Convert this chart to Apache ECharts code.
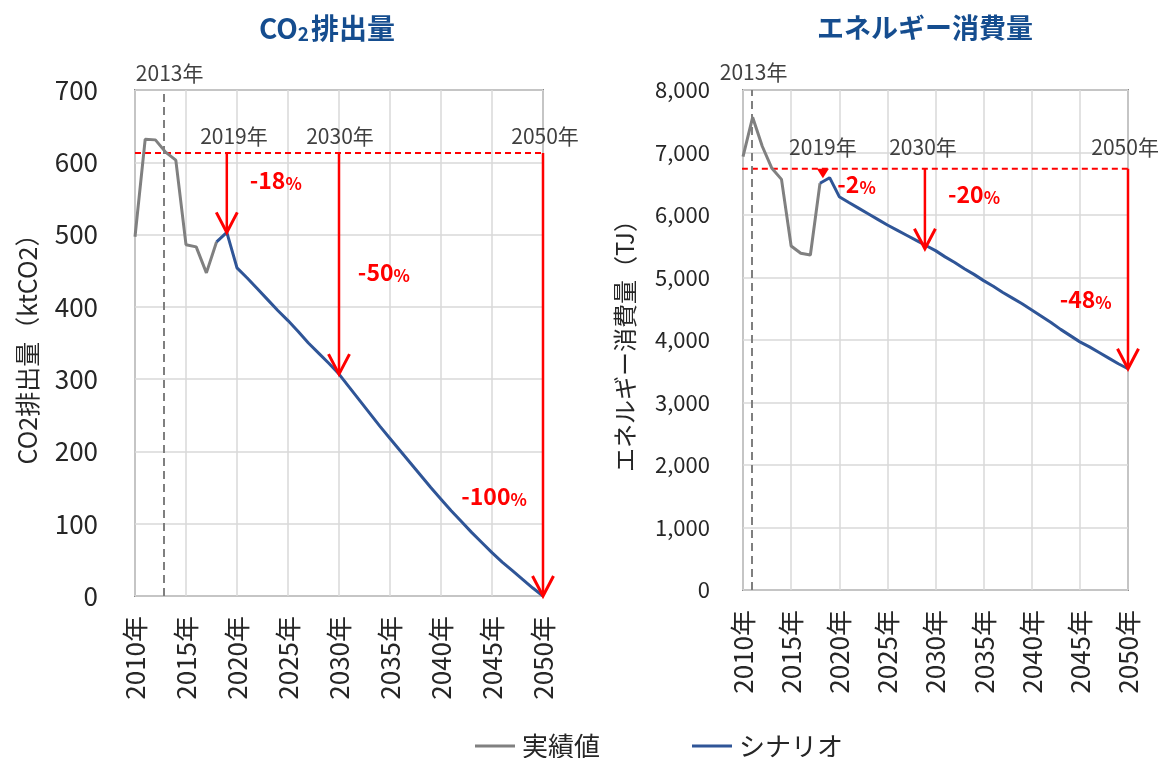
<!DOCTYPE html>
<html>
<head>
<meta charset="utf-8">
<script src="https://cdn.jsdelivr.net/npm/echarts@6/dist/echarts.min.js"></script>
<style>html,body{margin:0;padding:0;background:#fff;}#c{width:1161px;height:758px;}</style>
</head>
<body>
<div id="c"></div>
<script>
// ---------- data ----------
const actualYears = [2010, 2011, 2012, 2013, 2014, 2015, 2016, 2017, 2018];
const scenarioYears = [2018, 2019, 2020, 2021, 2022, 2023, 2024, 2025, 2026, 2027, 2028, 2029, 2030,
  2031, 2032, 2033, 2034, 2035, 2036, 2037, 2038, 2039, 2040, 2041, 2042, 2043, 2044, 2045, 2046, 2047, 2048, 2049, 2050];

const co2Actual = [497, 632, 631, 614, 603, 486, 483, 447, 490];
const co2Scenario = [490, 503, 454, 440, 425, 410, 395, 381, 366, 350, 336, 322, 307,
  289, 271, 253, 235, 218, 201, 184, 167, 150, 134, 118, 103, 88, 74, 60, 47, 35, 23, 11, 0];

const enActual = [6933, 7563, 7100, 6747, 6570, 5504, 5387, 5360, 6507];
const enScenario = [6507, 6597, 6293, 6200, 6110, 6020, 5930, 5840, 5758, 5676, 5594, 5512, 5430,
  5330, 5240, 5140, 5050, 4950, 4860, 4760, 4670, 4580, 4480, 4380, 4280, 4170, 4070, 3970, 3890, 3800, 3710, 3620, 3540];

const co2Base = 613;     // 2013 level
const enBase = 6740;     // 2013 level
// arrows: [year, from, to]
const co2Arrows = [[2019, 613, 503], [2030, 613, 307], [2050, 613, 0]];
const enArrows = [[2018.3, 6740, 6590], [2028.9, 6740, 5460], [2050, 6740, 3540]];

const xTickLabels = ['2010年', '2015年', '2020年', '2025年', '2030年', '2035年', '2040年', '2045年', '2050年'];
const co2Ticks = [0, 100, 200, 300, 400, 500, 600, 700];
const enTicks = [0, 1000, 2000, 3000, 4000, 5000, 6000, 7000, 8000];

// annotation placements (data coordinates)
const co2Notes = [
  { t: '2013年', x: 2013.4, y: 723, k: 'year' },
  { t: '2019年', x: 2019.7, y: 636, k: 'year' },
  { t: '2030年', x: 2030.1, y: 636, k: 'year' },
  { t: '2050年', x: 2050.2, y: 636, k: 'year' },
  { t: '-18%', x: 2023.8, y: 578, k: 'pct' },
  { t: '-50%', x: 2034.4, y: 451, k: 'pct' },
  { t: '-100%', x: 2045.2, y: 141, k: 'pct' }
];
const enNotes = [
  { t: '2013年', x: 2011.1, y: 8288, k: 'year' },
  { t: '2019年', x: 2018.3, y: 7088, k: 'year' },
  { t: '2030年', x: 2028.7, y: 7088, k: 'year' },
  { t: '2050年', x: 2049.7, y: 7088, k: 'year' },
  { t: '-2%', x: 2021.8, y: 6528, k: 'pct' },
  { t: '-20%', x: 2034.0, y: 6368, k: 'pct' },
  { t: '-48%', x: 2045.6, y: 4688, k: 'pct' }
];
const co2Marker2013 = 2012.8;
const enMarker2013 = 2010.9;
const enBaseStart = 2007.8;

// ---------- helpers ----------
const FONT = '"Noto Sans CJK JP", "Noto Sans", sans-serif';
const RED = '#ff0000';
const GRAY = '#808080';
const BLUE = '#2f5597';
const TITLE = '#154d8f';
const zip = (xs, ys) => xs.map((x, i) => [x, ys[i]]);
const comma = v => String(v).replace(/\B(?=(\d{3})+(?!\d))/g, ',');

function arrowRender(params, api) {
  const x = api.value(0), y0 = api.value(1), y1 = api.value(2);
  const p0 = api.coord([x, y0]), p1 = api.coord([x, y1]);
  const len = p1[1] - p0[1];
  const ch = [];
  if (len > 25) {
    ch.push({ type: 'line', shape: { x1: p0[0], y1: p0[1], x2: p1[0], y2: p1[1] - 1 }, style: { stroke: RED, lineWidth: 2.5 } });
    ch.push({ type: 'polyline', shape: { points: [[p1[0] - 10.5, p1[1] - 20], [p1[0], p1[1]], [p1[0] + 10.5, p1[1] - 20]] },
      style: { stroke: RED, lineWidth: 3, fill: null } });
  } else {
    ch.push({ type: 'polygon', shape: { points: [[p1[0] - 6, p0[1]], [p1[0] + 6, p0[1]], [p1[0], p1[1]]] }, style: { fill: RED } });
  }
  return { type: 'group', children: ch };
}
function notesRender(notes) {
  return function (params, api) {
    const n = notes[params.dataIndex];
    const p = api.coord([api.value(0), api.value(1)]);
    if (n.k === 'year') {
      return { type: 'text', x: p[0], y: p[1], style: { text: n.t, fill: '#404040', font: '21px ' + FONT, align: 'center', verticalAlign: 'middle' } };
    }
    const num = n.t.replace('%', '');
    return { type: 'text', x: p[0], y: p[1], style: {
      text: '{a|' + num + '}{b|%}', align: 'center', verticalAlign: 'middle',
      rich: { a: { fill: RED, fontSize: 23, fontWeight: 'bold', fontFamily: FONT, lineHeight: 28, verticalAlign: 'bottom' },
              b: { fill: RED, fontSize: 17, fontWeight: 'bold', fontFamily: FONT, lineHeight: 24, verticalAlign: 'bottom' } } } };
  };
}
function xAxisCfg(gi) {
  return {
    type: 'value', gridIndex: gi, min: 2010, max: 2050, interval: 5,
    axisLine: { show: false }, axisTick: { show: false },
    splitLine: { show: true, lineStyle: { color: '#d9d9d9', width: 1.5 } },
    axisLabel: { rotate: 90, margin: 20, fontSize: 26, color: '#262626', fontFamily: FONT,
      formatter: v => xTickLabels[Math.round((v - 2010) / 5)] }
  };
}

// title "CO2排出量" with subscript, built from three text pieces
const mctx = document.createElement('canvas').getContext('2d');
function tw(text, font) { mctx.font = font; return mctx.measureText(text).width; }
const fMain = 'bold 28px ' + FONT, fSub = 'bold 19px ' + FONT;
const pieces = [['CO', fMain, 0], ['2', fSub, 6], ['排出量', fMain, 0]];
const widths = pieces.map(p => tw(p[0], p[1]));
const totalW = widths.reduce((a, b) => a + b, 0) + 2;
let cx = 327 - totalW / 2;
const titleEls = pieces.map((p, i) => {
  const el = { type: 'text', x: cx, y: 28 + p[2], style: { text: p[0], font: p[1], fill: TITLE, align: 'left', verticalAlign: 'middle' } };
  cx += widths[i] + (i === 1 ? 2 : 0);
  return el;
});

const chart = echarts.init(document.getElementById('c'));
chart.setOption({
  animation: false,
  textStyle: { fontFamily: FONT },
  grid: [
    { left: 135, top: 90, width: 408, height: 506, show: true, borderColor: '#8a8a8a', borderWidth: 2, backgroundColor: 'transparent' },
    { left: 743, top: 90, width: 385, height: 500, show: true, borderColor: '#8a8a8a', borderWidth: 2, backgroundColor: 'transparent' }
  ],
  xAxis: [xAxisCfg(0), xAxisCfg(1)],
  yAxis: [
    { type: 'value', gridIndex: 0, min: co2Ticks[0], max: co2Ticks[co2Ticks.length - 1], interval: 100,
      axisLine: { show: false }, axisTick: { show: false },
      splitLine: { lineStyle: { color: '#d9d9d9', width: 1.5 } },
      axisLabel: { margin: 37, fontSize: 26, color: '#262626', fontFamily: FONT },
      name: 'CO2排出量（ktCO2）', nameLocation: 'middle', nameGap: 95,
      nameTextStyle: { fontSize: 25, color: '#262626', fontFamily: FONT } },
    { type: 'value', gridIndex: 1, min: enTicks[0], max: enTicks[enTicks.length - 1], interval: 1000,
      axisLine: { show: false }, axisTick: { show: false },
      splitLine: { lineStyle: { color: '#d9d9d9', width: 1.5 } },
      axisLabel: { margin: 33, fontSize: 22, color: '#262626', fontFamily: FONT, formatter: comma },
      name: 'エネルギー消費量（TJ）', nameLocation: 'middle', nameGap: 106,
      nameTextStyle: { fontSize: 24, color: '#262626', fontFamily: FONT } }
  ],
  legend: {
    data: ['実績値', 'シナリオ'], left: 470, top: 728, icon: 'rect', itemWidth: 40, itemHeight: 3, itemGap: 92,
    textStyle: { fontSize: 26, color: '#262626', fontFamily: FONT, padding: [0, 0, 0, 2] }
  },
  graphic: titleEls.concat([
    { type: 'text', x: 925, y: 28, style: { text: 'エネルギー消費量', fill: TITLE, font: 'bold 27px ' + FONT, align: 'center', verticalAlign: 'middle' } }
  ]),
  series: [
    // reference base lines
    { type: 'line', xAxisIndex: 0, yAxisIndex: 0, data: [[2010, co2Base], [2050, co2Base]], symbol: 'none', silent: true,
      lineStyle: { color: RED, width: 2, type: [6, 4] }, z: 3 },
    { type: 'line', xAxisIndex: 1, yAxisIndex: 1, data: [[enBaseStart, enBase], [2050, enBase]], symbol: 'none', silent: true, clip: false,
      lineStyle: { color: RED, width: 2, type: [6, 4] }, z: 3 },
    // CO2
    { name: '実績値', type: 'line', xAxisIndex: 0, yAxisIndex: 0, data: zip(actualYears, co2Actual), symbol: 'none',
      lineStyle: { color: GRAY, width: 3 }, itemStyle: { color: GRAY }, z: 4,
      markLine: { silent: true, symbol: 'none', label: { show: false }, lineStyle: { color: '#7f7f7f', width: 2, type: [8, 5] },
        data: [{ xAxis: co2Marker2013 }] } },
    { name: 'シナリオ', type: 'line', xAxisIndex: 0, yAxisIndex: 0, data: zip(scenarioYears, co2Scenario), symbol: 'none',
      lineStyle: { color: BLUE, width: 3 }, itemStyle: { color: BLUE }, z: 4 },
    // Energy
    { name: '実績値', type: 'line', xAxisIndex: 1, yAxisIndex: 1, data: zip(actualYears, enActual), symbol: 'none',
      lineStyle: { color: GRAY, width: 3 }, itemStyle: { color: GRAY }, z: 4,
      markLine: { silent: true, symbol: 'none', label: { show: false }, lineStyle: { color: '#7f7f7f', width: 2, type: [8, 5] },
        data: [{ xAxis: enMarker2013 }] } },
    { name: 'シナリオ', type: 'line', xAxisIndex: 1, yAxisIndex: 1, data: zip(scenarioYears, enScenario), symbol: 'none',
      lineStyle: { color: BLUE, width: 3 }, itemStyle: { color: BLUE }, z: 4 },
    // arrows
    { type: 'custom', xAxisIndex: 0, yAxisIndex: 0, data: co2Arrows, renderItem: arrowRender, silent: true, z: 5 },
    { type: 'custom', xAxisIndex: 1, yAxisIndex: 1, data: enArrows, renderItem: arrowRender, silent: true, z: 5 },
    // notes
    { type: 'custom', xAxisIndex: 0, yAxisIndex: 0, data: co2Notes.map(n => [n.x, n.y]), renderItem: notesRender(co2Notes), silent: true, z: 6 },
    { type: 'custom', xAxisIndex: 1, yAxisIndex: 1, data: enNotes.map(n => [n.x, n.y]), renderItem: notesRender(enNotes), silent: true, z: 6 }
  ]
});
</script>
</body>
</html>
